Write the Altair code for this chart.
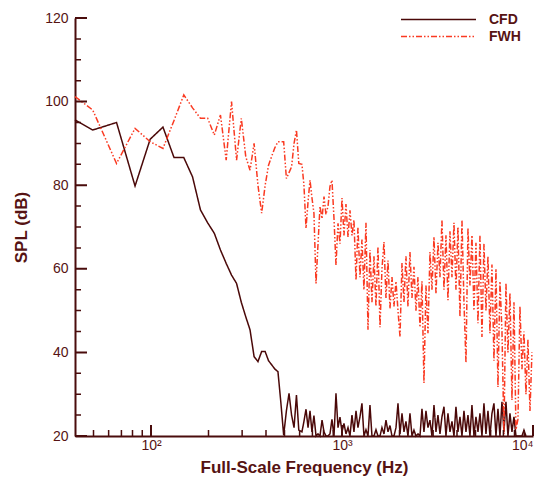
import altair as alt
import pandas as pd

# ---------------- data ----------------
freq_low = [40, 49.5, 66, 82.5, 99, 115.5, 132, 148.5, 165, 181.5, 198, 214.5, 231,
            247.5, 264, 280.5, 297, 313.5, 330, 346.5, 363, 379.5, 396, 412.5, 429,
            445.5, 462, 478.5, 495, 511.5, 528, 544.5, 561, 577.5, 594]
cfd_low = [95.6, 93.2, 95.0, 79.8, 91.0, 93.9, 86.6, 86.6, 82.0, 74.1, 71.0, 68.5, 64.5,
           61.3, 58.5, 56.5, 52.0, 48.5, 45.4, 39.0, 37.8, 40.2, 40.2, 38.0, 37.0,
           36.0, 35.4, 28.0, 20.2, 26.0, 30.2, 25.0, 22.0, 29.8, 21.4]
fwh_low = [101.2, 98.0, 85.2, 93.6, 90.4, 88.8, 95.5, 101.6, 98.5, 96.0, 96.0, 92.0, 96.8,
           86.0, 100.0, 86.0, 96.0, 86.8, 83.6, 90.0, 80.0, 73.3, 80.0, 84.8, 87.0,
           89.0, 90.4, 90.4, 90.4, 81.6, 83.0, 84.4, 90.0, 93.2, 85.2]

freq_high = [617, 632, 648, 664, 680, 696, 713, 731, 749, 767, 786, 805, 824, 845, 865, 886, 908, 930, 953, 976,
             1000, 1024, 1049, 1075, 1101, 1128, 1155, 1184, 1212, 1242,
             1272, 1303, 1335, 1368, 1401, 1435, 1470, 1506, 1543, 1581,
             1619, 1659, 1699, 1741, 1783, 1827, 1871, 1917, 1964, 2012,
             2061, 2111, 2162, 2215, 2269, 2325, 2381, 2439, 2499, 2560,
             2622, 2686, 2752, 2819, 2888, 2958, 3031, 3105, 3180, 3258,
             3337, 3419, 3502, 3588, 3675, 3765, 3857, 3951, 4047, 4146,
             4247, 4351, 4457, 4566, 4677, 4791, 4908, 5028, 5151, 5276,
             5405, 5537, 5672, 5810, 5952, 6097, 6246, 6399, 6555, 6715,
             6879, 7046, 7218, 7394, 7575, 7760, 7949, 8143, 8342, 8545,
             8754, 8967, 9186, 9410, 9640, 9875]
cfd_high = [21, 23.5, 26.4, 22, 26, 21, 24.9, 20, 20.5, 20, 23.8, 21, 20, 20, 20.5, 24, 20, 30.2, 22, 24.5,
            21, 23, 20.5, 22, 20, 25, 21, 26, 22, 24.6,
            27.8, 20, 21.5, 20, 27.4, 20, 20, 21.5, 20, 20,
            22, 20.5, 23.8, 21, 22.5, 20, 20, 22, 27.8, 20.5,
            25.4, 21, 23.5, 20, 25.4, 20, 21.4, 20, 20.5, 20,
            26.5, 21, 26, 22, 23.8, 20, 27.4, 21, 25, 20.5,
            24.6, 27, 20, 25.4, 21, 23.5, 20, 27, 21, 24.6,
            20, 26, 21, 25, 20, 27.4, 20, 24.6, 21, 25.4,
            20, 27.8, 20.5, 26, 20, 25.4, 27.8, 20, 26.5, 20,
            28.2, 21, 28.2, 20, 25.4, 21, 24.6, 20, 20, 20,
            20, 21.4, 20, None, None, None]
fwh_high = [85, 80, 69.7, 76, 81.2, 77, 73.3, 56.5, 66, 74.9, 72, 77.3, 73, 75, 79.7, 81.2, 72, 60.9, 70.9, 66,
            76.9, 68, 75.5, 67.6, 74, 68, 71.7, 57.3, 70, 58,
            67, 55, 71, 45.4, 64.5, 52, 63, 51, 65.3, 46,
            60, 66.4, 53, 62, 50.5, 58, 51, 57, 50, 43.7,
            61.4, 52, 63, 51, 64, 53, 60.5, 50, 58, 46,
            57, 32.7, 56, 44.6, 64, 55, 67.6, 54, 66.2, 58,
            71.7, 55, 68, 52.5, 69, 58, 71, 55, 70, 48.5,
            71.7, 52, 37.5, 69.8, 56, 68, 50, 66.2, 47, 68,
            43.7, 66, 50, 63, 44.6, 61, 38, 60, 31.7, 57,
            45, 20.5, 56.6, 40, 54.2, 28.6, 52, 21.5, 24, 51,
            36, 45, 30, 43, 26, 40]

series_names = ["CFD", "FWH"]
x_major = [100, 1000, 10000]
x_minor = [50, 60, 70, 80, 90, 200, 300, 400, 500, 600, 700, 800, 900,
           2000, 3000, 4000, 5000, 6000, 7000, 8000, 9000]
y_major = [20, 40, 60, 80, 100, 120]
y_minor = [25, 30, 35, 45, 50, 55, 65, 70, 75, 85, 90, 95, 105, 110, 115]

# ---------------- styling ----------------
FONT = "Liberation Sans"
AX = "#4a0c0c"
TXT = "#561313"
CFD_C = "#4a0808"
FWH_C = "#fa3a22"

W, H = 458, 418
X_DOMAIN = [40, 10000]
Y_DOMAIN = [20, 120]

# inward tick lengths (pixels) converted into data units of each scale
import math
px_per_decade = W / (math.log10(X_DOMAIN[1]) - math.log10(X_DOMAIN[0]))
px_per_db = H / (Y_DOMAIN[1] - Y_DOMAIN[0])
def x_tick_end(px):
    return X_DOMAIN[0] * 10 ** (px / px_per_decade)
def y_tick_end(px):
    return Y_DOMAIN[0] + px / px_per_db

rows = []
freq = freq_low + freq_high
for name, vals in (("CFD", cfd_low + cfd_high), ("FWH", fwh_low + fwh_high)):
    for f, v in zip(freq, vals):
        if v is not None:
            rows.append({"freq": f, "spl": v, "series": name, "grp": name, "w": 1.5})
k = 0
for vals, px, w in ((y_major, 12, 2.0), (y_minor, 6, 1.5)):
    for v in vals:
        k += 1
        rows.append({"freq": X_DOMAIN[0], "spl": v, "series": "tick", "grp": f"t{k}", "w": w})
        rows.append({"freq": x_tick_end(px), "spl": v, "series": "tick", "grp": f"t{k}", "w": w})
for vals, px, w in ((x_major, 11, 2.0), (x_minor, 6, 1.5)):
    for f in vals:
        k += 1
        rows.append({"freq": f, "spl": Y_DOMAIN[0], "series": "tick", "grp": f"t{k}", "w": w})
        rows.append({"freq": f, "spl": y_tick_end(px), "series": "tick", "grp": f"t{k}", "w": w})
df = pd.DataFrame(rows)

xscale = alt.Scale(type="log", domain=X_DOMAIN, nice=False)
yscale = alt.Scale(domain=Y_DOMAIN, nice=False, zero=False)

x_axis = alt.Axis(values=x_major, title="Full-Scale Frequency (Hz)", ticks=False,
                  labelExpr="datum.value == 100 ? '10²' : (datum.value == 1000 ? '10³' : '10⁴')",
                  labelAlign={"condition": {"test": "datum.value == 10000", "value": "right"},
                              "value": "center"},
                  labelFlush=False, labelOverlap=False, labelPadding=2, titlePadding=7)
y_axis = alt.Axis(values=y_major, title="SPL (dB)", ticks=False, labelPadding=7, titlePadding=14)

legend = alt.Legend(
    title=None, orient="none", legendX=355, legendY=-7, values=series_names,
    symbolType="M-5,0H5", symbolSize=225, symbolStrokeWidth=1.5,
    labelOffset=42, labelFontSize=14, labelFontWeight="bold",
    labelColor=TXT, labelFont=FONT, rowPadding=1, padding=0,
)

chart = alt.Chart(df).mark_line().encode(
    x=alt.X("freq:Q", scale=xscale, axis=x_axis),
    y=alt.Y("spl:Q", scale=yscale, axis=y_axis),
    detail="grp:N",
    color=alt.Color("series:N",
                    scale=alt.Scale(domain=series_names + ["tick"], range=[CFD_C, FWH_C, AX]),
                    legend=legend),
    strokeDash=alt.StrokeDash("series:N",
                              scale=alt.Scale(domain=series_names + ["tick"],
                                              range=[[1, 0], [6, 2, 1.5, 2, 1.5, 2], [1, 0]]),
                              legend=legend),
    strokeWidth=alt.StrokeWidth("w:Q", scale=None, legend=None),
).properties(
    width=W, height=H,
    padding={"left": 67, "top": 10, "right": 4, "bottom": 42},
    autosize=alt.AutoSizeParams(type="none"),
).configure_view(stroke=None).configure_axis(
    domainColor=AX, domainWidth=2, grid=False,
    labelColor=TXT, labelFont=FONT, labelFontSize=14,
    titleColor=TXT, titleFont=FONT, titleFontSize=17, titleFontWeight="bold",
)

chart.save("out.html", embed_options={"renderer": "svg", "actions": False})
